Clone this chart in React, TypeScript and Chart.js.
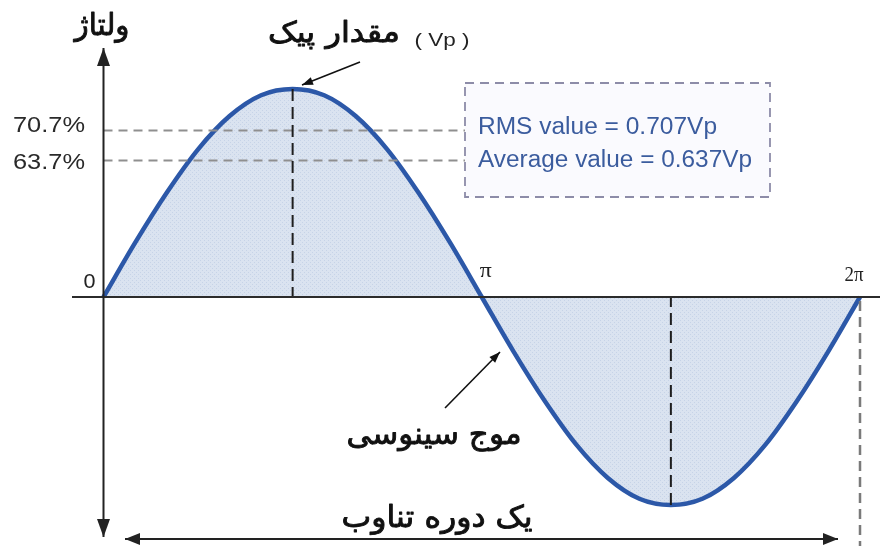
import React, { useEffect, useRef } from "react";
import { Chart, registerables } from "chart.js";

Chart.register(...registerables);

// Phase angle (degrees) and voltage (fraction of Vp)
const angles = [0, 15, 30, 45, 60, 75, 90, 105, 120, 135, 150, 165, 180, 195, 210, 225, 240, 255, 270, 285, 300, 315, 330, 345, 360];
const voltage = [0, 0.26, 0.5, 0.71, 0.87, 0.97, 1, 0.97, 0.87, 0.71, 0.5, 0.26, 0, -0.26, -0.5, -0.71, -0.87, -0.97, -1, -0.97, -0.87, -0.71, -0.5, -0.26, 0];

// Reference levels (drawn height) and their labels
const levelLabels = ["70.7%", "63.7%"];
const levelValues = [0.8, 0.656];

// x tick labels
const xTickLabels = ["0", "π", "2π"];
const xTickValues = [0, 180, 360];

// Peak / trough markers
const peakAngles = [90, 270];

// Texts
const boxLines = ["RMS value = 0.707Vp", "Average value = 0.637Vp"];
const yTitle = "ولتاژ";
const peakTitle = "مقدار پیک";
const peakUnit = "( Vp )";
const waveTitle = "موج سینوسی";
const periodTitle = "یک دوره تناوب";

const PERSIAN = '"DejaVu Sans", "Noto Sans", sans-serif';
const LATIN = '"Liberation Sans", Arial, sans-serif';
const SERIF = '"Liberation Serif", "DejaVu Serif", serif';

function fitText(ctx: CanvasRenderingContext2D, text: string, cx: number, base: number, w: number, font: string, color: string, stroke = 0) {
  ctx.save();
  ctx.font = font;
  ctx.fillStyle = color;
  ctx.strokeStyle = color;
  ctx.textAlign = "center";
  ctx.textBaseline = "alphabetic";
  const m = ctx.measureText(text).width;
  ctx.translate(cx, base);
  ctx.scale(w / m, 1);
  ctx.fillText(text, 0, 0);
  if (stroke > 0) {
    ctx.lineWidth = stroke;
    ctx.lineJoin = "round";
    ctx.strokeText(text, 0, 0);
  }
  ctx.restore();
}

function arrowHead(ctx: CanvasRenderingContext2D, x1: number, y1: number, x2: number, y2: number, len: number, wid: number) {
  const a = Math.atan2(y2 - y1, x2 - x1);
  const bx = x2 - len * Math.cos(a);
  const by = y2 - len * Math.sin(a);
  const px = Math.sin(a) * wid / 2;
  const py = -Math.cos(a) * wid / 2;
  ctx.beginPath();
  ctx.moveTo(x2, y2);
  ctx.lineTo(bx + px, by + py);
  ctx.lineTo(bx - px, by - py);
  ctx.closePath();
  ctx.fill();
}

function arrow(ctx: CanvasRenderingContext2D, x1: number, y1: number, x2: number, y2: number, lw: number, len: number, wid: number, both: boolean, color: string) {
  ctx.save();
  ctx.strokeStyle = color;
  ctx.fillStyle = color;
  ctx.lineWidth = lw;
  ctx.setLineDash([]);
  ctx.beginPath();
  ctx.moveTo(x1, y1);
  ctx.lineTo(x2, y2);
  ctx.stroke();
  arrowHead(ctx, x1, y1, x2, y2, len, wid);
  if (both) arrowHead(ctx, x2, y2, x1, y1, len, wid);
  ctx.restore();
}

function dashed(ctx: CanvasRenderingContext2D, x1: number, y1: number, x2: number, y2: number, color: string, lw: number, dash: number[]) {
  ctx.save();
  ctx.strokeStyle = color;
  ctx.lineWidth = lw;
  ctx.setLineDash(dash);
  ctx.beginPath();
  ctx.moveTo(x1, y1);
  ctx.lineTo(x2, y2);
  ctx.stroke();
  ctx.restore();
}

const decorPlugin = {
  id: "decor",
  afterDatasetsDraw(chart: any) {
    const ctx: CanvasRenderingContext2D = chart.ctx;
    const xs = chart.scales.x;
    const ys = chart.scales.y;
    const x0 = xs.getPixelForValue(0);
    const y0 = ys.getPixelForValue(0);
    const H = chart.height;
    const boxL = 465, boxT = 83, boxR = 770, boxB = 197;

    // level dashed lines
    levelValues.forEach((v, i) => {
      const y = ys.getPixelForValue(v);
      dashed(ctx, x0, y, boxL, y, "#8f8f8f", 2, [9, 6]);
      ctx.save();
      ctx.font = `22px ${LATIN}`;
      ctx.fillStyle = "#2a2a2a";
      ctx.textAlign = "left";
      const w = ctx.measureText(levelLabels[i]).width;
      ctx.translate(13, y + 1 + (i === 0 ? 0 : 7));
      ctx.scale(72 / w, 1);
      ctx.fillText(levelLabels[i], 0, 0);
      ctx.restore();
    });

    // peak / trough vertical dashes
    peakAngles.forEach((a) => {
      const x = xs.getPixelForValue(a);
      const idx = angles.indexOf(a);
      const yv = ys.getPixelForValue(voltage[idx]);
      dashed(ctx, x, yv, x, y0, "#1e1e1e", 2, [12, 6]);
    });
    // 2π dashed line down
    const xEnd = xs.getPixelForValue(360);
    dashed(ctx, xEnd, y0 + 4, xEnd, H, "#7a7a7a", 2.5, [10, 6]);

    // baseline
    ctx.save();
    ctx.strokeStyle = "#2b2b2b";
    ctx.lineWidth = 2;
    ctx.beginPath();
    ctx.moveTo(72, y0);
    ctx.lineTo(chart.width, y0);
    ctx.stroke();
    ctx.restore();

    // y axis double arrow
    arrow(ctx, x0, 537, x0, 48, 2, 18, 13, true, "#222");
    // period double arrow
    arrow(ctx, 125, 539, 838, 539, 2, 15, 12, true, "#222");

    // box
    ctx.save();
    ctx.fillStyle = "rgba(250,250,254,0.9)";
    ctx.fillRect(boxL, boxT, boxR - boxL, boxB - boxT);
    ctx.strokeStyle = "#8d8ca8";
    ctx.lineWidth = 1.8;
    ctx.setLineDash([9, 6]);
    ctx.strokeRect(boxL, boxT, boxR - boxL, boxB - boxT);
    ctx.restore();
    const boxW = [239, 274];
    const boxBase = [134, 167];
    boxLines.forEach((t, i) => {
      ctx.save();
      ctx.font = `23px ${LATIN}`;
      ctx.fillStyle = "#3b5c9e";
      ctx.textAlign = "left";
      const w = ctx.measureText(t).width;
      ctx.translate(478, boxBase[i]);
      ctx.scale(boxW[i] / w, 1);
      ctx.fillText(t, 0, 0);
      ctx.restore();
    });

    // x tick labels
    const tickBase = [288, 277, 281];
    const tickW = [12, 12, 19];
    const tickDx = [-14, 4, -6];
    xTickLabels.forEach((t, i) => {
      const x = xs.getPixelForValue(xTickValues[i]) + tickDx[i];
      const f = i === 0 ? `20px ${LATIN}` : `21px ${SERIF}`;
      fitText(ctx, t, x, tickBase[i], tickW[i], f, "#222");
    });

    // Persian titles
    fitText(ctx, yTitle, 102, 35, 55, `30px ${PERSIAN}`, "#111", 0.9);
    fitText(ctx, peakTitle, 334, 42, 132, `29px ${PERSIAN}`, "#111", 0.9);
    fitText(ctx, peakUnit, 442, 46, 55, `18px ${LATIN}`, "#222");
    fitText(ctx, waveTitle, 434, 444, 175, `30px ${PERSIAN}`, "#111", 0.9);
    fitText(ctx, periodTitle, 437, 527, 191, `30px ${PERSIAN}`, "#111", 0.9);

    // pointer arrows
    arrow(ctx, 360, 62, 302, 85, 1.6, 11, 8, false, "#111");
    arrow(ctx, 445, 408, 500, 352, 1.6, 11, 8, false, "#111");
  },
};

function makePattern(): CanvasPattern | string {
  const c = document.createElement("canvas");
  c.width = 4;
  c.height = 4;
  const g = c.getContext("2d");
  if (!g) return "#dbe4f0";
  g.fillStyle = "#dae3f0";
  g.fillRect(0, 0, 4, 4);
  g.fillStyle = "#c6d3e7";
  g.fillRect(0, 0, 1, 1);
  g.fillRect(2, 2, 1, 1);
  const p = g.createPattern(c, "repeat");
  return p || "#dbe4f0";
}

export default function App() {
  const ref = useRef<HTMLCanvasElement>(null);
  useEffect(() => {
    if (!ref.current) return;
    const pxPerDeg = (860 - 103.5) / 360;
    const amp = 208;
    const base = 297;
    const chart = new Chart(ref.current, {
      type: "line",
      data: {
        datasets: [
          {
            data: angles.map((a, i) => ({ x: a, y: voltage[i] })),
            borderColor: "#2c58a8",
            borderWidth: 4.5,
            backgroundColor: makePattern() as any,
            fill: "origin",
            pointRadius: 0,
            cubicInterpolationMode: "monotone",
          },
        ],
      },
      options: {
        responsive: false,
        animation: false,
        layout: { padding: 0 },
        events: [],
        scales: {
          x: { type: "linear", display: false, min: -103.5 / pxPerDeg, max: (880 - 103.5) / pxPerDeg },
          y: { display: false, min: -(546 - base) / amp, max: base / amp },
        },
        plugins: { legend: { display: false }, tooltip: { enabled: false } },
      },
      plugins: [decorPlugin],
    });
    return () => chart.destroy();
  }, []);
  return (
    <div style={{ position: "absolute", left: 0, top: 0, width: 880, height: 546, background: "#fff" }}>
      <canvas ref={ref} width={880} height={546} style={{ display: "block" }} />
    </div>
  );
}
